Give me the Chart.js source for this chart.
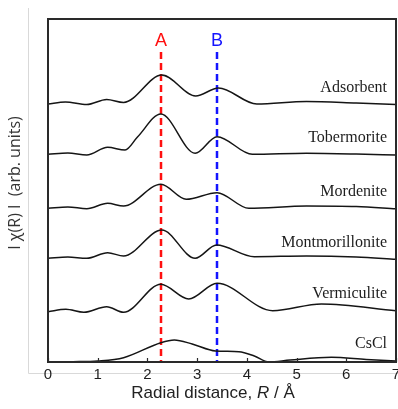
<!DOCTYPE html>
<html>
<head>
<meta charset="utf-8">
<script src="https://cdn.jsdelivr.net/npm/chart.js@4.4.0/dist/chart.umd.min.js"></script>
<style>
  html, body { margin: 0; padding: 0; background: #fff; }
  #wrap { width: 398px; height: 409px; position: relative; }
</style>
</head>
<body>
<div id="wrap"><canvas id="exafsChart"></canvas></div>
<script>
// stacked |chi(R)| curves, heights in arb. units (offsets included)
var names = ['Adsorbent', 'Tobermorite', 'Mordenite', 'Montmorillonite', 'Vermiculite', 'CsCl'];

var adsorbentR = [0, 0.35, 0.78, 1.18, 1.52, 2.29, 2.97, 3.43, 4.2, 5.2, 6.2, 7];
var adsorbentY = [258, 260, 257.5, 262.5, 259.5, 287, 266, 274, 258, 260.5, 259, 257.5];

var tobermoriteR = [0, 0.4, 0.78, 1.2, 1.55, 1.8, 2.27, 2.96, 3.4, 4.11, 5.2, 6.2, 7];
var tobermoriteY = [207.7, 209, 207, 214.7, 212, 225, 248, 208.7, 225.3, 207.7, 208.7, 208, 207];

var mordeniteR = [0, 0.4, 0.78, 1.2, 1.52, 2.27, 2.78, 3.4, 4.04, 5.2, 6.2, 7];
var mordeniteY = [153.7, 155, 153.3, 158.7, 156, 177.7, 162.7, 169.3, 153.7, 156, 155.5, 153.3];

var montmorilloniteR = [0, 0.4, 0.78, 1.2, 1.52, 2.29, 2.96, 3.39, 4.15, 5.2, 6.2, 7];
var montmorilloniteY = [103.7, 105, 103.7, 109.3, 106, 132, 103.7, 117, 105.3, 106, 105, 102.7];

var vermiculiteR = [0, 0.36, 0.72, 1.18, 1.52, 2.27, 2.83, 3.4, 4.52, 5.5, 7];
var vermiculiteY = [50.3, 52.7, 49.7, 55.3, 49.7, 77.7, 63, 78.7, 51.3, 58, 51.3];

var csclR = [0, 0.5, 1.0, 1.52, 2.27, 2.54, 2.9, 3.37, 3.84, 4.15, 4.44, 4.87, 5.7, 6.4, 7];
var csclY = [0, 0.3, 1, 4.3, 19.3, 22, 18, 11, 10.3, 6, 0, 2, 4.7, 2.5, 1];

var xTicks = [0, 1, 2, 3, 4, 5, 6, 7];
var markerR = [2.27, 3.40];
var markerNames = ['A', 'B'];

var seriesR = [adsorbentR, tobermoriteR, mordeniteR, montmorilloniteR, vermiculiteR, csclR];
var seriesY = [adsorbentY, tobermoriteY, mordeniteY, montmorilloniteY, vermiculiteY, csclY];

function toPoints(rs, ys) {
  return rs.map(function(r, i) { return { x: r, y: ys[i] }; });
}

var datasets = names.map(function(n, i) {
  return {
    label: n,
    data: toPoints(seriesR[i], seriesY[i]),
    borderColor: '#151515',
    borderWidth: 1.5,
    pointRadius: 0,
    fill: false,
    cubicInterpolationMode: 'monotone'
  };
});

var frameLines = {
  id: 'frameLines',
  beforeDraw: function(chart) {
    var c = chart.ctx;
    c.save();
    c.strokeStyle = '#d9d9d9';
    c.lineWidth = 1;
    c.beginPath();
    c.moveTo(28.5, 8);
    c.lineTo(28.5, 373.5);
    c.lineTo(398, 373.5);
    c.stroke();
    c.restore();
  },
  beforeDatasetsDraw: function(chart) {
    var c = chart.ctx, xs = chart.scales.x, a = chart.chartArea;
    var colors = ['#ff1010', '#1414ff'];
    c.save();
    markerR.forEach(function(r, i) {
      var px = Math.round(xs.getPixelForValue(r));
      c.strokeStyle = colors[i];
      c.lineWidth = 2.5;
      c.setLineDash([7, 4]);
      c.beginPath();
      c.moveTo(px, 52);
      c.lineTo(px, a.bottom);
      c.stroke();
      c.setLineDash([]);
      c.fillStyle = colors[i];
      c.font = '18px "Liberation Sans", Arial, sans-serif';
      c.textAlign = 'center';
      c.textBaseline = 'middle';
      c.fillText(markerNames[i], px, 41);
    });
    c.restore();
  },
  afterDraw: function(chart) {
    var c = chart.ctx, xs = chart.scales.x, ys = chart.scales.y, a = chart.chartArea;
    c.save();
    // frame
    c.strokeStyle = '#2a2a2a';
    c.lineWidth = 2;
    c.strokeRect(a.left, a.top, a.right - a.left, a.bottom - a.top);
    // inner ticks
    c.lineWidth = 1.2;
    xTicks.forEach(function(t) {
      var px = Math.round(xs.getPixelForValue(t)) + 0.5;
      c.beginPath();
      c.moveTo(px, a.bottom);
      c.lineTo(px, a.bottom - 4);
      c.stroke();
    });
    // curve names
    c.fillStyle = '#1e1e1e';
    c.font = '16px "Liberation Serif", "Times New Roman", serif';
    c.textAlign = 'right';
    c.textBaseline = 'middle';
    names.forEach(function(n, i) {
      var yEnd = seriesY[i][seriesY[i].length - 1];
      c.fillText(n, 387, ys.getPixelForValue(yEnd) - 17);
    });
    // x title with italic R
    c.fillStyle = '#222';
    c.textBaseline = 'middle';
    c.textAlign = 'left';
    var f1 = '17px "Liberation Sans", Arial, sans-serif';
    var f2 = 'italic 17px "Liberation Sans", Arial, sans-serif';
    var p1 = 'Radial distance, ', p2 = 'R', p3 = ' / \u00c5';
    c.font = f1; var w1 = c.measureText(p1).width, w3 = c.measureText(p3).width;
    c.font = f2; var w2 = c.measureText(p2).width;
    var x0 = 213 - (w1 + w2 + w3) / 2, ty = 393;
    c.font = f1; c.fillText(p1, x0, ty);
    c.font = f2; c.fillText(p2, x0 + w1, ty);
    c.font = f1; c.fillText(p3, x0 + w1 + w2, ty);
    // y title
    c.translate(15, 183);
    c.rotate(-Math.PI / 2);
    c.textAlign = 'center';
    c.fillStyle = '#333';
    c.font = '16px "Open Sans", "Noto Sans", sans-serif';
    c.fillText('I \u03c7(R) I  (arb. units)', 0, 0);
    c.restore();
  }
};

var ctx = document.getElementById('exafsChart').getContext('2d');
var myChart = new Chart(ctx, {
  type: 'line',
  data: { datasets: datasets },
  options: {
    responsive: true,
    maintainAspectRatio: false,
    animation: false,
    layout: {
      autoPadding: false,
      padding: { left: 48, right: 2, top: 19, bottom: 21 }
    },
    plugins: {
      legend: { display: false },
      tooltip: { enabled: false }
    },
    scales: {
      x: {
        type: 'linear',
        min: 0,
        max: 7,
        afterBuildTicks: function(scale) {
          scale.ticks = xTicks.map(function(v) { return { value: v }; });
        },
        afterFit: function(scale) {
          scale.paddingLeft = 0;
          scale.paddingRight = 0;
        },
        ticks: {
          color: '#1e1e1e',
          padding: 4,
          maxRotation: 0,
          font: { family: '"Liberation Sans", Arial, sans-serif', size: 15 }
        },
        grid: { display: false, drawTicks: false },
        border: { display: false }
      },
      y: {
        display: false,
        min: 0,
        max: 343
      }
    }
  },
  plugins: [frameLines]
});
</script>
</body>
</html>
